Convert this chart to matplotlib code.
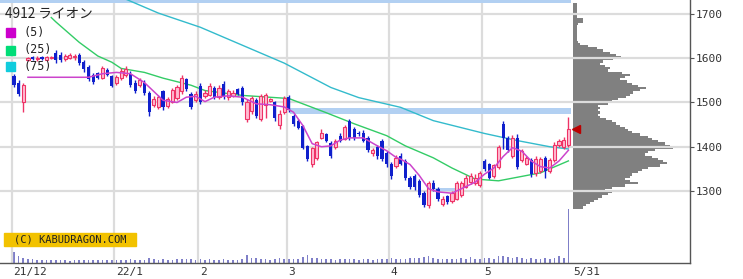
import matplotlib
matplotlib.use("Agg")
import matplotlib.pyplot as plt
from matplotlib.patches import Rectangle

# daily candles, 2021/12/1 .. 2022/5/31 (index = trading day)
opens = [1560, 1545, 1500, 1597, 1602, 1598, 1603, 1597, 1600, 1612, 1608, 1598, 1600, 1602, 1608, 1592, 1580, 1562, 1567, 1555,
         1574, 1560, 1545, 1555, 1562, 1565, 1545, 1540, 1545, 1522, 1495, 1490, 1525, 1492, 1502, 1510, 1525, 1552, 1520, 1505,
         1538, 1515, 1518, 1532, 1512, 1542, 1512, 1515, 1530, 1532, 1462, 1480, 1505, 1462, 1495, 1503, 1500, 1450, 1478, 1512,
         1470, 1458, 1448, 1402, 1362, 1375, 1420, 1428, 1408, 1400, 1425, 1418, 1458, 1440, 1432, 1432, 1420, 1385, 1400, 1412,
         1385, 1362, 1357, 1380, 1368, 1330, 1335, 1322, 1295, 1268, 1318, 1305, 1270, 1288, 1278, 1283, 1290, 1310, 1320, 1318,
         1313, 1368, 1360, 1335, 1355, 1452, 1420, 1380, 1420, 1370, 1362, 1370, 1340, 1345, 1375, 1345, 1370, 1405, 1400, 1405]
highs = [1565, 1550, 1545, 1603, 1605, 1604, 1606, 1604, 1606, 1618, 1615, 1610, 1612, 1610, 1612, 1596, 1585, 1566, 1570, 1582,
         1578, 1562, 1562, 1578, 1582, 1572, 1550, 1556, 1550, 1527, 1514, 1516, 1528, 1512, 1532, 1540, 1562, 1556, 1524, 1525,
         1545, 1528, 1545, 1537, 1540, 1548, 1530, 1528, 1533, 1537, 1507, 1515, 1510, 1520, 1522, 1510, 1503, 1482, 1515, 1518,
         1474, 1462, 1450, 1405, 1400, 1414, 1440, 1432, 1412, 1418, 1430, 1450, 1462, 1445, 1436, 1438, 1424, 1398, 1404, 1418,
         1390, 1366, 1382, 1385, 1372, 1335, 1338, 1326, 1300, 1322, 1325, 1310, 1288, 1292, 1300, 1322, 1322, 1336, 1340, 1338,
         1345, 1372, 1364, 1362, 1405, 1458, 1425, 1426, 1428, 1395, 1380, 1375, 1378, 1376, 1380, 1375, 1410, 1418, 1422, 1468]
lows = [1535, 1515, 1478, 1594, 1596, 1594, 1597, 1595, 1598, 1590, 1592, 1594, 1598, 1597, 1585, 1570, 1548, 1542, 1553, 1552,
        1560, 1535, 1540, 1550, 1558, 1536, 1522, 1535, 1518, 1470, 1490, 1485, 1484, 1488, 1498, 1506, 1520, 1525, 1486, 1500,
        1496, 1510, 1514, 1508, 1508, 1508, 1505, 1512, 1517, 1495, 1455, 1475, 1465, 1458, 1465, 1500, 1458, 1440, 1475, 1478,
        1448, 1440, 1395, 1368, 1355, 1370, 1418, 1410, 1375, 1395, 1410, 1415, 1415, 1415, 1424, 1410, 1388, 1380, 1372, 1368,
        1355, 1328, 1352, 1358, 1325, 1305, 1303, 1286, 1264, 1262, 1300, 1278, 1265, 1270, 1272, 1280, 1286, 1306, 1315, 1314,
        1310, 1345, 1326, 1330, 1350, 1395, 1388, 1375, 1350, 1365, 1358, 1332, 1335, 1340, 1330, 1340, 1365, 1400, 1395, 1400]
closes = [1540, 1520, 1540, 1600, 1598, 1601, 1599, 1602, 1603, 1595, 1596, 1605, 1607, 1606, 1590, 1575, 1552, 1546, 1556, 1577,
          1563, 1538, 1558, 1572, 1575, 1540, 1527, 1550, 1522, 1478, 1508, 1512, 1490, 1508, 1528, 1535, 1556, 1530, 1490, 1520,
          1502, 1522, 1538, 1512, 1533, 1512, 1525, 1522, 1520, 1500, 1502, 1510, 1470, 1515, 1518, 1507, 1465, 1475, 1510, 1482,
          1452, 1443, 1398, 1372, 1398, 1410, 1430, 1414, 1378, 1414, 1414, 1445, 1420, 1420, 1428, 1414, 1392, 1392, 1378, 1372,
          1360, 1334, 1375, 1362, 1330, 1310, 1308, 1290, 1268, 1318, 1305, 1282, 1282, 1275, 1295, 1318, 1318, 1330, 1335, 1330,
          1340, 1350, 1330, 1358, 1400, 1420, 1392, 1420, 1355, 1390, 1375, 1338, 1372, 1372, 1345, 1370, 1405, 1412, 1415, 1440]
# volume, thousand shares
volumes = [1650, 1000, 800, 600, 600, 500, 450, 500, 450, 500, 450, 400, 350, 450, 500, 450, 500, 450, 400, 450,
           400, 450, 500, 450, 450, 550, 500, 450, 500, 700, 600, 500, 550, 450, 500, 550, 600, 550, 600, 500,
           650, 500, 550, 450, 500, 550, 450, 400, 450, 600, 1200, 800, 700, 650, 600, 500, 650, 700, 600, 650,
           600, 550, 900, 1200, 800, 700, 600, 550, 600, 500, 550, 600, 650, 550, 500, 550, 600, 500, 550, 600,
           650, 700, 600, 550, 650, 700, 750, 800, 900, 1050, 700, 650, 600, 550, 600, 650, 700, 600, 900, 600,
           650, 750, 700, 650, 1000, 1100, 900, 800, 950, 700, 650, 700, 650, 600, 700, 650, 750, 1050, 800, 8100]

# moving averages
ma5_idx = [3, 16, 19, 22, 25, 28, 30, 32, 35, 37, 39, 41, 43, 46, 49, 52, 55, 58, 60, 62, 64, 66, 68, 70,
           72, 75, 78, 80, 82, 83, 85, 87, 89, 91, 94, 96, 99, 101, 103, 105, 107, 109, 111, 113, 115, 117, 119]
ma5_val = [1557, 1557, 1565, 1568, 1565, 1545, 1525, 1505, 1500, 1512, 1514, 1502, 1512, 1515, 1512, 1497, 1495, 1490,
           1478, 1448, 1407, 1400, 1402, 1415, 1420, 1420, 1402, 1391, 1376, 1372, 1360, 1335, 1305, 1298, 1295, 1305,
           1320, 1338, 1352, 1378, 1398, 1390, 1368, 1355, 1352, 1368, 1392]
ma25_idx = [8, 9, 14, 18, 21, 23, 28, 32, 38, 41, 49, 59, 67, 73, 80, 84, 90, 94, 99, 104, 113, 119]
ma25_val = [1692, 1682, 1636, 1605, 1591, 1577, 1568, 1555, 1539, 1527, 1516, 1509, 1477, 1452, 1425, 1402, 1375,
            1352, 1327, 1323, 1341, 1368]
ma75_idx = [23, 31, 40, 58, 68, 74, 83, 90, 101, 108, 115, 119]
ma75_val = [1738, 1702, 1670, 1589, 1534, 1511, 1489, 1459, 1430, 1414, 1400, 1395]

# price bands (light blue)
band_lo = [1725, 1474, 1300]
band_hi = [1735, 1488, 1307]
band_x0 = [-3, 59.2, 90.3]
band_x1 = [119.5, 119.5, 94.6]

# volume by price, 5 yen bins from 1260
prof_price = list(range(1260, 1725, 5))
prof_vol = [10, 13, 17, 21, 25, 29, 35, 39, 32, 39, 52, 65, 57, 52, 57, 59, 65, 69, 75, 87,
            94, 90, 85, 79, 72, 75, 82, 100, 97, 92, 85, 79, 75, 67, 59, 55, 52, 47, 43, 39,
            33, 27, 25, 27, 25, 27, 25, 35, 39, 45, 53, 57, 60, 67, 73, 65, 59, 54, 47, 52,
            57, 49, 35, 37, 32, 27, 30, 40, 48, 43, 37, 30, 24, 15, 7, 5, 4, 4, 4, 4,
            4, 4, 4, 5, 10, 10, 4, 4, 4, 4, 4, 4, 4]

month_pos = [-0.5, 21.5, 39.5, 58.5, 80.5, 100.5]
month_labels = ["21/12", "22/1", "2", "3", "4", "5"]
last_label = "5/31"

up_edge, up_fill, dn_col = "#ee3366", "#ffbcd2", "#1020cc"
grid_col = "#dcdcdc"

fig = plt.figure(figsize=(7.43, 2.79), dpi=100)
ax = fig.add_axes([0, 16/279, 690/743, 263/279])
prof = fig.add_axes([573/743, 16/279, 117/743, 263/279], sharey=ax)
axv = ax.twinx()
prof.set_zorder(0)
axv.set_zorder(1)
ax.set_zorder(2)
ax.patch.set_visible(False)
axv.patch.set_visible(False)

prof.barh(prof_price, prof_vol, height=5, align="edge", color="#808080")
prof.set_xlim(0, 117)
prof.axis("off")

axv.bar(range(len(volumes)), volumes, width=0.35, color="#7f7fc8")
axv.set_ylim(0, 39450)
axv.set_yticks([])
for s in axv.spines.values():
    s.set_visible(False)

for y in [1300, 1400, 1500, 1600, 1700]:
    ax.axhline(y, color=grid_col, lw=1.6, zorder=0)
for x in month_pos:
    ax.axvline(x, color=grid_col, lw=1.6, zorder=0)

for lo, hi, x0, x1 in zip(band_lo, band_hi, band_x0, band_x1):
    ax.fill_between([x0, x1], lo, hi, color="#b2d0f2", lw=0, zorder=1)

ax.plot(ma75_idx, ma75_val, color="#33bbcc", lw=1.0, zorder=2)
ax.plot(ma25_idx, ma25_val, color="#33cc66", lw=1.0, zorder=2)
ax.plot(ma5_idx, ma5_val, color="#cc44cc", lw=1.1, zorder=4)

for i, (o, h, l, c) in enumerate(zip(opens, highs, lows, closes)):
    if c >= o:
        ax.vlines(i, l, h, color=up_edge, lw=1, zorder=3)
        ax.bar(i, c - o, bottom=o, width=0.68, facecolor=up_fill, edgecolor=up_edge, lw=0.8, zorder=3)
    else:
        ax.vlines(i, l, h, color=dn_col, lw=1, zorder=3)
        ax.bar(i, o - c, bottom=c, width=0.68, color=dn_col, lw=0, zorder=3)

ax.plot(len(closes) + 0.6, closes[-1], marker="<", color="#bb0000", markersize=6, zorder=5)

ax.set_xlim(-3.0, 145.1)
ax.set_ylim(1137.3, 1731.6)
ax.yaxis.tick_right()
ax.set_yticks([1300, 1400, 1500, 1600, 1700])
ax.tick_params(axis="y", length=3, width=0.8, color="#555555", pad=1, labelsize=8,
               labelcolor="#333333", labelfontfamily="DejaVu Sans Mono")
ax.set_xticks([p + 0.4 for p in month_pos] + [len(closes)])
ax.set_xticklabels(month_labels + [last_label], ha="left", fontsize=8,
                   color="#333333", family="DejaVu Sans Mono")
ax.tick_params(axis="x", length=0, pad=3)
for side in ["left", "top"]:
    ax.spines[side].set_visible(False)
for side in ["right", "bottom"]:
    ax.spines[side].set_color("#555555")
    ax.spines[side].set_linewidth(1)

# title and legend
fig.text(5/743, 1 - 14/279, "4912 ライオン", fontsize=9.8, va="center", color="#222222",
         family=["Noto Sans CJK JP", "DejaVu Sans"])
leg = [("(5)", "#cc00cc", 32.5), ("(25)", "#00dd77", 50), ("(75)", "#11ccdd", 67)]
for txt, col, yc in leg:
    fig.patches.append(Rectangle((6/743, 1 - (yc + 4.5)/279), 9/743, 9/279,
                                 transform=fig.transFigure, color=col, zorder=6))
    fig.text(24/743, 1 - yc/279, txt, fontsize=8.5, va="center", color="#222222",
             family="DejaVu Sans Mono", zorder=6)

fig.patches.append(Rectangle((4/743, 1 - 246/279), 132/743, 13/279,
                             transform=fig.transFigure, color="#f2c200", zorder=6))
fig.text(70/743, 1 - 239.5/279, "(C) KABUDRAGON.COM", fontsize=7.5, ha="center", va="center",
         color="#222222", family="DejaVu Sans Mono", zorder=7)

fig.savefig("out.png", dpi=100)
